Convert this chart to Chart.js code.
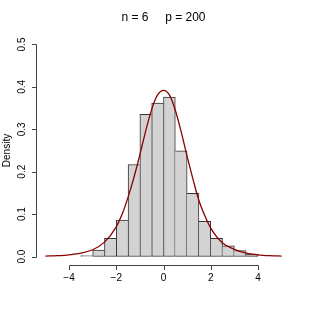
<!DOCTYPE html>
<html>
<head>
<meta charset="utf-8">
<script src="https://cdn.jsdelivr.net/npm/chart.js@4.4.1/dist/chart.umd.min.js"></script>
<style>
  html, body { margin: 0; padding: 0; background: #fff; }
  #wrap { width: 310px; height: 310px; }
</style>
</head>
<body>
<div id="wrap"><canvas id="hist" width="310" height="310"></canvas></div>
<script>
(function () {
  'use strict';

  // histogram: bin edges and densities
  const breaks = [-3.5, -3, -2.5, -2, -1.5, -1, -0.5, 0, 0.5, 1, 1.5, 2, 2.5, 3, 3.5, 4];
  const density = [0.002, 0.015, 0.043, 0.086, 0.217, 0.335, 0.362, 0.376, 0.249, 0.149, 0.083, 0.043, 0.025, 0.014, 0.006];

  // fitted density curve (dark red)
  const curveX = [-5, -4.5, -4, -3.5, -3, -2.5, -2, -1.75, -1.5, -1.25, -1, -0.75, -0.5, -0.25, 0,
    0.25, 0.5, 0.75, 1, 1.25, 1.5, 1.75, 2, 2.5, 3, 3.5, 4, 4.5, 5];
  const curveY = [0.001, 0.002, 0.004, 0.008, 0.016, 0.034, 0.070, 0.100, 0.140, 0.187, 0.240, 0.297, 0.347, 0.381, 0.392,
    0.381, 0.345, 0.294, 0.236, 0.182, 0.132, 0.096, 0.067, 0.032, 0.017, 0.008, 0.004, 0.002, 0.001];

  const xTicks = [-4, -2, 0, 2, 4];
  const yTicks = [0, 0.1, 0.2, 0.3, 0.4, 0.5];
  const title = 'n = 6     p = 200';
  const yLabel = 'Density';

  const FONT = '"Liberation Sans", Arial, Helvetica, sans-serif';

  const bars = density.map(function (d, i) {
    return { x: (breaks[i] + breaks[i + 1]) / 2, y: d };
  });
  const curve = curveX.map(function (x, i) {
    return { x: x, y: curveY[i] };
  });

  // shared edge between two bins is drawn once, by the taller bin
  function edges(ctx) {
    const i = ctx.dataIndex;
    const last = density.length - 1;
    return {
      top: 1,
      bottom: 1,
      left: (i === 0 || density[i] >= density[i - 1]) ? 1 : 0,
      right: (i === last || density[i] > density[i + 1]) ? 1 : 0,
    };
  }

  // R style axes, title and labels drawn through the chart's scales
  const rAxes = {
    id: 'rAxes',
    afterDraw: function (chart) {
      const ctx = chart.ctx;
      const xs = chart.scales.x;
      const ys = chart.scales.y;
      const area = chart.chartArea;
      const tick = 4.5;

      ctx.save();
      ctx.strokeStyle = '#444';
      ctx.fillStyle = '#000';
      ctx.lineWidth = 1;

      // x axis
      const yb = Math.round(area.bottom) + 0.5;
      ctx.beginPath();
      ctx.moveTo(Math.round(xs.getPixelForValue(xTicks[0])) + 0.5, yb);
      ctx.lineTo(Math.round(xs.getPixelForValue(xTicks[xTicks.length - 1])) + 0.5, yb);
      xTicks.forEach(function (t) {
        const px = Math.round(xs.getPixelForValue(t)) + 0.5;
        ctx.moveTo(px, yb);
        ctx.lineTo(px, yb + tick);
      });
      ctx.stroke();

      ctx.font = '10px ' + FONT;
      ctx.textAlign = 'center';
      ctx.textBaseline = 'middle';
      xTicks.forEach(function (t) {
        const s = t < 0 ? '\u2212' + Math.abs(t) : String(t);
        ctx.fillText(s, xs.getPixelForValue(t), yb + 13);
      });

      // y axis
      const xl = Math.round(area.left) + 0.5;
      ctx.beginPath();
      ctx.moveTo(xl, Math.round(ys.getPixelForValue(yTicks[0])) + 0.5);
      ctx.lineTo(xl, Math.round(ys.getPixelForValue(yTicks[yTicks.length - 1])) + 0.5);
      yTicks.forEach(function (t) {
        const py = Math.round(ys.getPixelForValue(t)) + 0.5;
        ctx.moveTo(xl, py);
        ctx.lineTo(xl - tick, py);
      });
      ctx.stroke();

      yTicks.forEach(function (t) {
        ctx.save();
        ctx.translate(xl - 14.5, ys.getPixelForValue(t));
        ctx.rotate(-Math.PI / 2);
        ctx.fillText(t.toFixed(1), 0, 0);
        ctx.restore();
      });

      ctx.save();
      ctx.translate(7, (area.top + area.bottom) / 2);
      ctx.rotate(-Math.PI / 2);
      ctx.fillText(yLabel, 0, 0);
      ctx.restore();

      // title
      ctx.font = '12px ' + FONT;
      ctx.fillText(title, (area.left + area.right) / 2, 17.5);

      ctx.restore();
    }
  };

  new Chart(document.getElementById('hist'), {
    data: {
      datasets: [{
        type: 'bar',
        data: bars,
        backgroundColor: '#d3d3d3',
        borderColor: '#333',
        borderWidth: edges,
        borderSkipped: false,
        barPercentage: 1,
        categoryPercentage: 1,
        order: 2,
      }, {
        type: 'line',
        data: curve,
        borderColor: '#8b0000',
        borderWidth: 1.3,
        pointRadius: 0,
        cubicInterpolationMode: 'monotone',
        fill: false,
        order: 1,
      }],
    },
    options: {
      responsive: false,
      animation: false,
      layout: { padding: { left: 36, top: 36, right: 19, bottom: 45 } },
      plugins: {
        legend: { display: false },
        tooltip: { enabled: false },
        title: { display: false },
      },
      scales: {
        x: {
          type: 'linear',
          display: false,
          offset: false,
          min: -5.4,
          max: 5.4,
          ticks: { stepSize: 1, includeBounds: false },
        },
        y: {
          type: 'linear',
          display: false,
          min: -0.02,
          max: 0.52,
        },
      },
    },
    plugins: [rAxes],
  });
})();
</script>
</body>
</html>
